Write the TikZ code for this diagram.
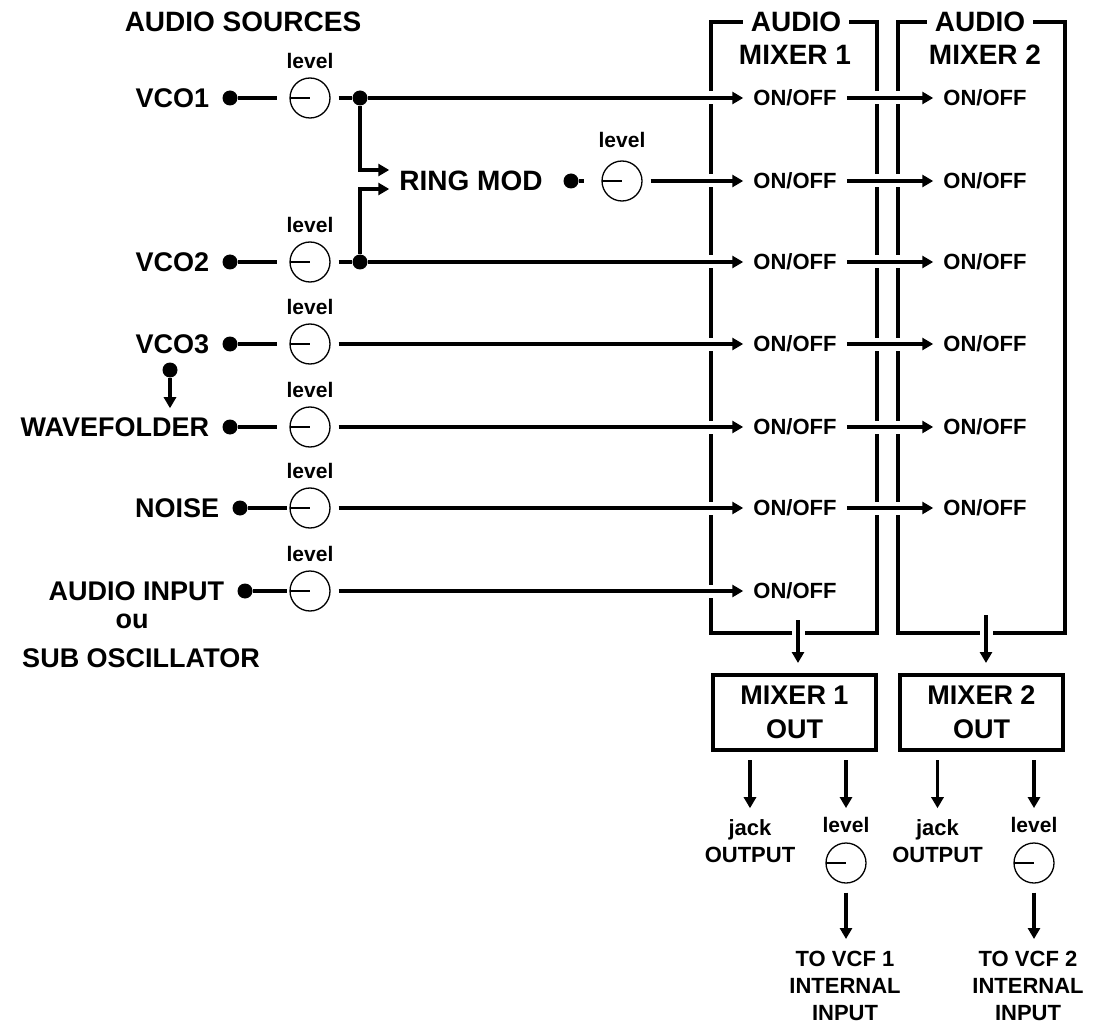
\documentclass[tikz,border=0pt]{standalone}
\usepackage{fontspec}
\setmainfont{Liberation Sans}
\usetikzlibrary{arrows.meta,positioning}
\newcommand{\fs}[2]{\fontsize{#1}{#2}\selectfont\bfseries}

\begin{document}
\begin{tikzpicture}[
  x=1pt, y=-1pt,
  src/.style={font=\fs{27}{34}, inner sep=0pt},
  head/.style={font=\fs{28}{34}, inner sep=0pt},
  sw/.style={font=\fs{22}{27.5}, inner xsep=10pt, inner ysep=0pt},
  lev/.style={font=\fs{21}{26}, inner sep=0pt},
  small/.style={font=\fs{22}{27}, inner sep=0pt, align=center},
  knob/.style={circle, draw, line width=1.3pt, minimum size=40pt, inner sep=0pt,
    path picture={\draw[line width=1.3pt] (path picture bounding box.west) -- (path picture bounding box.center);}},
  jdot/.style={circle, fill, minimum size=15pt, inner sep=0pt},
  wire/.style={line width=3.6pt},
  sig/.style={line width=3.6pt, -{Triangle[length=11pt,width=12pt]}},
  halo/.style={preaction={draw=white, line width=13pt, -}},
  frame/.style={line width=4pt},
  outbox/.style={draw, line width=4pt, minimum width=163pt, minimum height=75pt, align=center, inner sep=0pt, font=\fs{27}{34}}
]
\useasboundingbox (0,0) rectangle (1093,1027);

% mixer frames
\node[head, inner xsep=8pt] (hd1) at (796,22) {AUDIO};
\node[head] (hd1b) at (795,55) {MIXER 1};
\node[head, inner xsep=8pt] (hd2) at (980,22) {AUDIO};
\node[head] (hd2b) at (985,55) {MIXER 2};
\draw[frame] (hd1.west) -| (711,633) -| (877,22) -- (hd1.east);
\draw[frame] (hd2.west) -| (898,633) -| (1065,22) -- (hd2.east);

\node[head] (title) at (243,22) {AUDIO SOURCES};

% VCO1
\node[jdot] (d1) at (230,98) {};
\node[src, left=13pt of d1] (vco1) {VCO1};
\node[knob] (k1) at (310,98) {};
\node[lev, above=8pt of k1] (lv1) {level};
\node[jdot] (j1) at (360,98) {};
\node[sw] (on11) at (795,98) {ON/OFF};
\node[sw] (on12) at (985,98) {ON/OFF};
\draw[wire, shorten >=12pt] (d1) -- (k1);
\draw[wire, shorten <=8pt] (k1) -- (j1);
\draw[sig, halo] (j1) -- (on11.west);
\draw[sig, halo] (on11.east) -- (on12.west);

% ring mod
\node[head, inner xsep=10pt] (ring) at (471,181) {RING MOD};
\node[jdot] (rd) at (571,181) {};
\node[knob] (rk) at (622,181) {};
\node[lev, above=12pt of rk] (lv2) {level};
\node[sw] (on21) at (795,181) {ON/OFF};
\node[sw] (on22) at (985,181) {ON/OFF};
\draw[wire, shorten >=17pt] (rd) -- (rk);
\draw[sig, halo, shorten <=8pt] (rk) -- (on21.west);
\draw[sig, halo] (on21.east) -- (on22.west);

% VCO2
\node[jdot] (d2) at (230,262) {};
\node[src, left=13pt of d2] (vco2) {VCO2};
\node[knob] (k2) at (310,262) {};
\node[lev, above=8pt of k2] (lv3) {level};
\node[jdot] (j2) at (360,262) {};
\node[sw] (on31) at (795,262) {ON/OFF};
\node[sw] (on32) at (985,262) {ON/OFF};
\draw[wire, shorten >=12pt] (d2) -- (k2);
\draw[wire, shorten <=8pt] (k2) -- (j2);
\draw[sig, halo] (j2) -- (on31.west);
\draw[sig, halo] (on31.east) -- (on32.west);
\draw[sig] (j1) |- ([yshift=11pt]ring.west);
\draw[sig] (j2) |- ([yshift=-8pt]ring.west);

% VCO3
\node[jdot] (d3) at (230,344) {};
\node[src, left=13pt of d3] (vco3) {VCO3};
\node[knob] (k3) at (310,344) {};
\node[lev, above=8pt of k3] (lv4) {level};
\node[sw] (on41) at (795,344) {ON/OFF};
\node[sw] (on42) at (985,344) {ON/OFF};
\draw[wire, shorten >=12pt] (d3) -- (k3);
\draw[sig, halo, shorten <=8pt] (k3) -- (on41.west);
\draw[sig, halo] (on41.east) -- (on42.west);

% wavefolder
\node[jdot] (d5) at (230,427) {};
\node[src, left=13pt of d5] (wf) {WAVEFOLDER};
\node[knob] (k5) at (310,427) {};
\node[lev, above=8pt of k5] (lv5) {level};
\node[sw] (on51) at (795,427) {ON/OFF};
\node[sw] (on52) at (985,427) {ON/OFF};
\node[jdot] (t3) at (170,370) {};
\draw[sig, shorten >=9pt] (t3) -- (t3 |- wf.north);
\draw[wire, shorten >=12pt] (d5) -- (k5);
\draw[sig, halo, shorten <=8pt] (k5) -- (on51.west);
\draw[sig, halo] (on51.east) -- (on52.west);

% noise
\node[jdot] (d6) at (240,508) {};
\node[src, left=13pt of d6] (noise) {NOISE};
\node[knob] (k6) at (310,508) {};
\node[lev, above=8pt of k6] (lv6) {level};
\node[sw] (on61) at (795,508) {ON/OFF};
\node[sw] (on62) at (985,508) {ON/OFF};
\draw[wire, shorten >=2pt] (d6) -- (k6);
\draw[sig, halo, shorten <=8pt] (k6) -- (on61.west);
\draw[sig, halo] (on61.east) -- (on62.west);

% audio input
\node[jdot] (d7) at (245,591) {};
\node[src, left=13pt of d7] (ain) {AUDIO INPUT};
\node[src] (ou) at (132,621) {ou};
\node[src] (sub) at (141,658) {SUB OSCILLATOR};
\node[knob] (k7) at (310,591) {};
\node[lev, above=8pt of k7] (lv7) {level};
\node[sw] (on71) at (795,591) {ON/OFF};
\draw[wire, shorten >=2pt] (d7) -- (k7);
\draw[sig, halo, shorten <=8pt] (k7) -- (on71.west);

% mixer outputs
\node[outbox] (mo1) at (794.5,712.5) {MIXER 1\\OUT};
\node[outbox] (mo2) at (981.5,712.5) {MIXER 2\\OUT};
\coordinate (b1) at (798,620);
\coordinate (b2) at (986,615);
\draw[sig, halo, shorten >=10pt] (b1) -- (b1 |- mo1.north);
\draw[sig, halo, shorten >=10pt] (b2) -- (b2 |- mo2.north);

\node[small] (jk1) at (750,841) {jack\\OUTPUT};
\node[lev] (ol1) at (846,825) {level};
\node[knob] (ok1) at (846,863) {};
\node[small] (vcf1) at (845,986) {TO VCF 1\\INTERNAL\\INPUT};
\draw[sig, shorten <=8pt, shorten >=11pt] (mo1.south -| jk1) -- (jk1.north);
\draw[sig, shorten <=8pt, shorten >=9pt] (mo1.south -| ol1) -- (ol1.north);
\draw[sig, shorten <=9pt, shorten >=12pt] (ok1) -- (ok1 |- vcf1.north);

\node[small] (jk2) at (937.5,841) {jack\\OUTPUT};
\node[lev] (ol2) at (1034,825) {level};
\node[knob] (ok2) at (1034,863) {};
\node[small] (vcf2) at (1028,986) {TO VCF 2\\INTERNAL\\INPUT};
\draw[sig, shorten <=8pt, shorten >=11pt] (mo2.south -| jk2) -- (jk2.north);
\draw[sig, shorten <=8pt, shorten >=9pt] (mo2.south -| ol2) -- (ol2.north);
\draw[sig, shorten <=9pt, shorten >=12pt] (ok2) -- (ok2 |- vcf2.north);
\end{tikzpicture}
\end{document}
